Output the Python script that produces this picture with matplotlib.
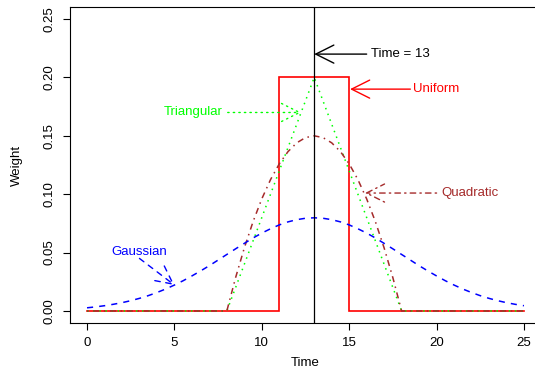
import matplotlib
matplotlib.use("Agg")
import matplotlib.pyplot as plt

plt.rcParams['font.family'] = ['Liberation Sans', 'DejaVu Sans']

# ---- data ----
uniform_t = [0, 11, 11, 15, 15, 25]
uniform_w = [0, 0, 0.2, 0.2, 0, 0]

tri_t = [0, 8, 13, 18, 25]
tri_w = [0, 0, 0.2, 0, 0]

quad_t = [0, 8, 8.5, 9, 9.5, 10, 10.5, 11, 11.5, 12, 12.5, 13,
          13.5, 14, 14.5, 15, 15.5, 16, 16.5, 17, 17.5, 18, 25]
quad_w = [0, 0, 0.0285, 0.054, 0.0765, 0.096, 0.1125, 0.126, 0.1365, 0.144, 0.1485, 0.15,
          0.1485, 0.144, 0.1365, 0.126, 0.1125, 0.096, 0.0765, 0.054, 0.0285, 0, 0]

gauss_t = [i * 0.5 for i in range(51)]
gauss_w = [0.0027, 0.0035, 0.0045, 0.0057, 0.0071, 0.0088, 0.0108, 0.0131, 0.0158, 0.0188,
           0.0222, 0.0259, 0.0300, 0.0343, 0.0388, 0.0436, 0.0484, 0.0532, 0.0579, 0.0625,
           0.0667, 0.0704, 0.0737, 0.0763, 0.0782, 0.0794, 0.0798,
           0.0794, 0.0782, 0.0763, 0.0737, 0.0704, 0.0667, 0.0625, 0.0579, 0.0532, 0.0484,
           0.0436, 0.0388, 0.0343, 0.0300, 0.0259, 0.0222, 0.0188, 0.0158, 0.0131, 0.0108,
           0.0088, 0.0071, 0.0057, 0.0045]

x_ticks = [0, 5, 10, 15, 20, 25]
y_ticks = [0.00, 0.05, 0.10, 0.15, 0.20, 0.25]
y_tick_labels = ["0.00", "0.05", "0.10", "0.15", "0.20", "0.25"]
current_time = 13

RED = "#FF0000"
GREEN = "#00FF00"
BROWN = "#A52A2A"
BLUE = "#0000FF"

DOT = (0, (1, 3))
DASH = (0, (4, 4))
DOTDASH = (0, (1, 3, 4, 3))

FS = 9.5

fig = plt.figure(figsize=(5.35, 3.7), dpi=100)
ax = fig.add_axes([0.130, 0.128, 0.882, 0.852])

ax.plot(uniform_t, uniform_w, color=RED, lw=1.2, solid_joinstyle='miter')
ax.plot(tri_t, tri_w, color=GREEN, lw=1.1, linestyle=DOT)
ax.plot(quad_t, quad_w, color=BROWN, lw=1.1, linestyle=DOTDASH)
ax.plot(gauss_t, gauss_w, color=BLUE, lw=1.1, linestyle=DASH)
ax.axvline(current_time, color="black", lw=0.9)

def arrow(tip, start, color, ls):
    ax.annotate("", xy=tip, xytext=start,
                arrowprops=dict(arrowstyle="->,head_length=1.3,head_width=0.65",
                                color=color, lw=1.0, linestyle=ls,
                                shrinkA=0, shrinkB=0, mutation_scale=10))

arrow((13, 0.22), (16.0, 0.22), "black", "solid")
ax.text(16.25, 0.22, "Time = 13", color="black", fontsize=FS, ha="left", va="center")

arrow((15.05, 0.19), (18.5, 0.19), RED, "solid")
ax.text(18.65, 0.19, "Uniform", color=RED, fontsize=FS, ha="left", va="center")

arrow((12.25, 0.17), (8.05, 0.17), GREEN, DOT)
ax.text(7.75, 0.17, "Triangular", color=GREEN, fontsize=FS, ha="right", va="center")

arrow((15.9, 0.101), (20.0, 0.101), BROWN, DOTDASH)
ax.text(20.25, 0.101, "Quadratic", color=BROWN, fontsize=FS, ha="left", va="center")

arrow((5.0, 0.0222), (3.0, 0.045), BLUE, DASH)
ax.text(3.0, 0.0505, "Gaussian", color=BLUE, fontsize=FS, ha="center", va="center")

ax.set_xlim(-1, 26)
ax.set_ylim(-0.01, 0.26)
ax.set_xticks(x_ticks)
ax.set_xticklabels([str(v) for v in x_ticks])
ax.set_yticks(y_ticks)
ax.set_yticklabels(y_tick_labels, rotation=90, va="center")
ax.tick_params(direction="out", length=5, width=0.8, labelsize=FS, pad=5)
for s in ax.spines.values():
    s.set_linewidth(0.8)
ax.set_xlabel("Time", fontsize=FS, labelpad=6)
ax.set_ylabel("Weight", fontsize=FS, labelpad=15)

fig.savefig("out.png", dpi=100)
